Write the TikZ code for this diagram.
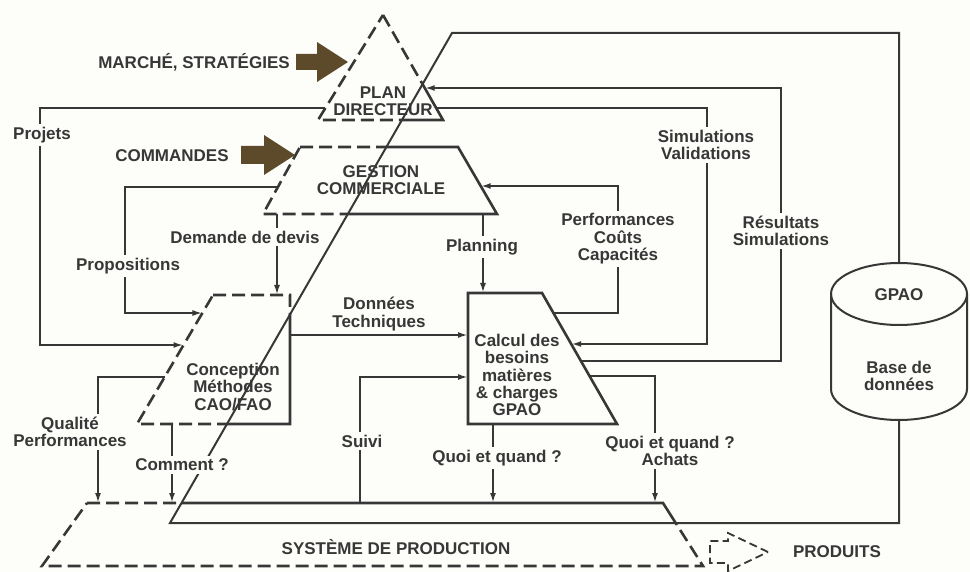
\documentclass[tikz,border=0pt]{standalone}
\usepackage{fontspec}
\setmainfont{Liberation Sans}
\usepackage{xcolor}
\usepackage{tikz}
\usetikzlibrary{arrows.meta,positioning}

\definecolor{paper}{RGB}{253,253,250}
\definecolor{ink}{RGB}{55,55,55}
\definecolor{mud}{RGB}{92,74,42}

% outlines of the four blocks cut by the GPAO loop
\newcommand{\blockoutlines}[1]{%
  \draw[#1] (pd-apex) -- (pd-br) -- (pd-bl) -- cycle;
  \draw[#1] (gc-tl) -- (gc-tr) -- (gc-br) -- (gc-bl) -- cycle;
  \draw[#1] (cm-tl) -- (cm-tr) -- (cm-br) -- (cm-bl) -- cycle;
  \draw[#1] (sp-tl) -- (sp-tr) -- (sp-br) -- (sp-bl) -- cycle;
}

\begin{document}
\begin{tikzpicture}[
  x=0.5pt, y=-0.5pt,
  font=\fontsize{8.5}{8.7}\selectfont\bfseries,
  color=ink,
  tag/.style={align=center, inner sep=1.5pt, fill=paper},
  blocktext/.style={align=center, inner sep=0pt},
  blockline/.style={line width=1.3pt, line join=miter},
  dashside/.style={blockline, dash pattern=on 6.5pt off 3pt},
  link/.style={line width=1pt},
  flow/.style={link, -{Latex[length=5pt,width=3pt]}}
]
\useasboundingbox (0,0) rectangle (970,572);
\fill[paper] (0,0) rectangle (970,572);

% blocks
\coordinate (pd-apex) at (383,15);
\coordinate (pd-bl) at (318,120);
\coordinate (pd-br) at (443,120);
\coordinate (gc-tl) at (300,147);
\coordinate (gc-tr) at (458,147);
\coordinate (gc-br) at (497,214);
\coordinate (gc-bl) at (263,214);
\coordinate (cm-tl) at (213,295);
\coordinate (cm-tr) at (290,295);
\coordinate (cm-br) at (290,424);
\coordinate (cm-bl) at (137,424);
\coordinate (cb-tl) at (468,293);
\coordinate (cb-tr) at (542,293);
\coordinate (cb-br) at (617,424);
\coordinate (cb-bl) at (468,424);
\coordinate (sp-tl) at (87,503);
\coordinate (sp-tr) at (663,503);
\coordinate (sp-br) at (703,566);
\coordinate (sp-bl) at (42,566);

% GPAO loop
\coordinate (lp-a) at (452,33);
\coordinate (lp-b) at (899,33);
\coordinate (lp-c) at (899,523);
\coordinate (lp-d) at (170,523);
\coordinate (db-top) at (899,263);
\coordinate (db-bot) at (899,420);

\begin{scope}
  \clip (lp-a) -- (lp-b) -- (lp-c) -- (lp-d) -- cycle;
  \blockoutlines{blockline}
\end{scope}
\begin{scope}[even odd rule]
  \clip (0,0) rectangle (970,572) (lp-a) -- (lp-b) -- (lp-c) -- (lp-d) -- cycle;
  \blockoutlines{dashside}
\end{scope}
\draw[blockline] (cb-tl) -- (cb-tr) -- (cb-br) -- (cb-bl) -- cycle;

% database
\draw[link] (831,294) -- (831,389) arc[start angle=180, end angle=360, x radius=34pt, y radius=15.5pt] -- (967,294);
\draw[link] (899,294) ellipse [x radius=34pt, y radius=15.5pt];
\draw[link] (db-top) |- (lp-a) -- (lp-d) -| (db-bot);

% end points on the block sides
\coordinate (prj-s) at (325.4,108);
\coordinate (prj-e) at (183.5,345);
\coordinate (prp-s) at (277.9,187);
\coordinate (prp-e) at (202.4,313);
\coordinate (dv-s) at (277,214);
\coordinate (dv-e) at (277,295);
\coordinate (pl-s) at (483,214);
\coordinate (pl-e) at (483,293);
\coordinate (pf-s) at (553.5,313);
\coordinate (pf-e) at (480.7,186);
\coordinate (sv-s) at (436,108);
\coordinate (sv-e) at (571.2,344);
\coordinate (rs-s) at (580.9,361);
\coordinate (rs-e) at (424.7,88);
\coordinate (ac-s) at (589.5,376);
\coordinate (ac-e) at (655,503);
\coordinate (qq-s) at (493,424);
\coordinate (qq-e) at (493,503);
\coordinate (su-s) at (360,503);
\coordinate (su-e) at (468,377);
\coordinate (dt-s) at (290,335);
\coordinate (dt-e) at (468,335);
\coordinate (ql-s) at (164.7,377);
\coordinate (ql-e) at (98,503);
\coordinate (co-s) at (172,424);
\coordinate (co-e) at (172,503);

\draw[flow] (prj-s) -- (40,108) |- (prj-e);
\draw[flow] (prp-s) -- (125,187) |- (prp-e);
\draw[flow] (dv-s) -- (dv-e);
\draw[flow] (pl-s) -- (pl-e);
\draw[flow] (pf-s) -- (618,313) |- (pf-e);
\draw[flow] (sv-s) -- (707,108) |- (sv-e);
\draw[flow] (rs-s) -- (781,361) |- (rs-e);
\draw[flow] (ac-s) -| (ac-e);
\draw[flow] (qq-s) -- (qq-e);
\draw[flow] (su-s) |- (su-e);
\draw[flow] (dt-s) -- (dt-e);
\draw[flow] (ql-s) -| (ql-e);
\draw[flow] (co-s) -- (co-e);

% inputs and output
\coordinate (mkt-tip) at (348,62);
\coordinate (cmd-tip) at (295,155);
\coordinate (prod-tip) at (768,552);
\fill[mud] (mkt-tip) -- ++(-31,-20) -- ++(0,12) -- ++(-21,0) -- ++(0,16) -- ++(21,0) -- ++(0,12) -- cycle;
\fill[mud] (cmd-tip) -- ++(-31,-20) -- ++(0,11) -- ++(-23,0) -- ++(0,18) -- ++(23,0) -- ++(0,11) -- cycle;
\draw[line width=0.9pt, dash pattern=on 4pt off 2.2pt] (prod-tip) -- ++(-40,-19) -- ++(0,8) -- ++(-18,0) -- ++(0,22) -- ++(18,0) -- ++(0,8) -- cycle;

% texts
\node (mkt) at (194,62) {MARCHÉ, STRATÉGIES};
\node (cmd) at (172,156) {COMMANDES};
\node (prod) at (837,552) {PRODUITS};
\node[blocktext] (pd) at (383,101) {PLAN\\DIRECTEUR};
\node[blocktext] (gc) at (381,180) {GESTION\\COMMERCIALE};
\node[blocktext] (cm) at (233,387) {Conception\\Méthodes\\CAO/FAO};
\node[blocktext] (cb) at (517,375) {Calcul des\\besoins\\matières\\\& charges\\GPAO};
\node[blocktext] (sp) at (396,547) {SYSTÈME DE PRODUCTION};
\node (gpao) at (899,295) {GPAO};
\node[blocktext] (bdd) at (899,376) {Base de\\données};

\node[tag] (projets) at (42,135) {Projets};
\node[tag] (props) at (128,266) {Propositions};
\node[tag] (devis) at (245,237) {Demande de devis};
\node[tag] (plan) at (482,247) {Planning};
\node[tag] (perf) at (618,239) {Performances\\Coûts\\Capacités};
\node[tag] (simval) at (706,145) {Simulations\\Validations};
\node[tag] (ressim) at (781,231) {Résultats\\Simulations};
\node[blocktext] (tech) at (379,314) {Données\\Techniques};
\node[tag] (suivi) at (362,441) {Suivi};
\node[tag] (quoi) at (497,458) {Quoi et quand ?};
\node[tag] (achats) at (670,451) {Quoi et quand ?\\Achats};
\node[tag] (qualite) at (70,432) {Qualité\\Performances};
\node[tag] (comment) at (182,465) {Comment ?};
\end{tikzpicture}
\end{document}
